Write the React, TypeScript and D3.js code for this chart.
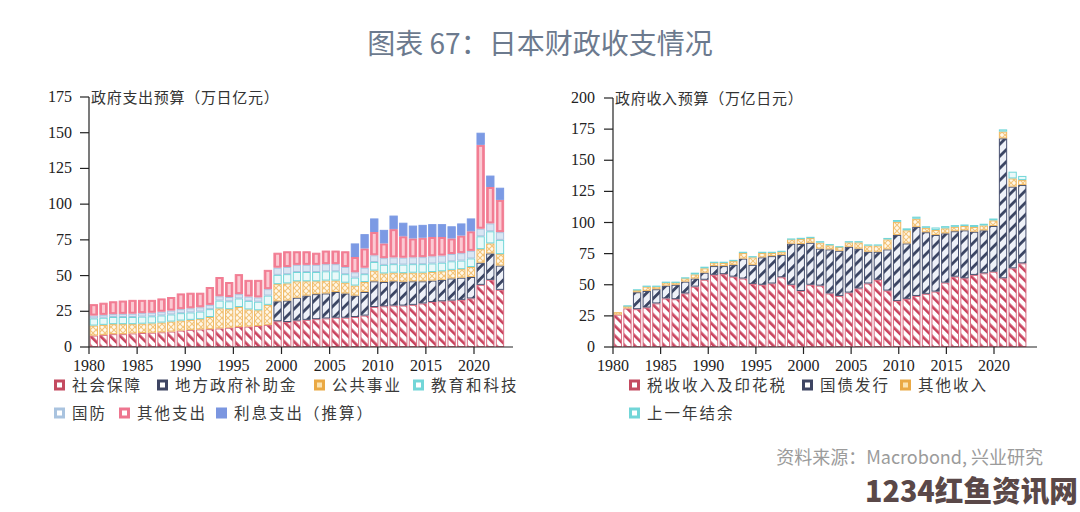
import React from "react";
import * as d3 from "d3";

// ---------- DATA ----------
const years = [
  1980, 1981, 1982, 1983, 1984, 1985, 1986, 1987, 1988, 1989,
  1990, 1991, 1992, 1993, 1994, 1995, 1996, 1997, 1998, 1999,
  2000, 2001, 2002, 2003, 2004, 2005, 2006, 2007, 2008, 2009,
  2010, 2011, 2012, 2013, 2014, 2015, 2016, 2017, 2018, 2019,
  2020, 2021, 2022,
];
const xTickYears = [1980, 1985, 1990, 1995, 2000, 2005, 2010, 2015, 2020];
const spendTicks = [0, 25, 50, 75, 100, 125, 150, 175];
const revTicks = [0, 25, 50, 75, 100, 125, 150, 175, 200];

// 政府支出预算（万亿日元）
const spendSocial = [
  8, 8.5, 9, 9, 9.5, 9.8, 10, 10.3, 10.8, 11.5,
  12, 12.3, 12.5, 13, 13.5, 14, 14.3, 14.7, 15.5, 18,
  17.5, 18.5, 19, 19.5, 20, 20.5, 20.5, 21, 22, 28,
  28.5, 29, 29, 29.5, 30.5, 31.5, 32, 32.5, 33, 34,
  43.5, 47, 40,
];
const spendLocal = [
  0, 0, 0, 0, 0, 0, 0, 0, 0, 0,
  0, 0, 0, 0, 0, 0, 0, 0, 0, 14,
  15, 16, 17, 17.5, 17.5, 18, 17, 15, 16.5, 18,
  17, 17, 16.7, 16.5, 15.5, 15, 15, 15.5, 15.5, 15,
  15.5, 18.5, 17,
];
const spendPublic = [
  7, 7, 7, 7, 6.5, 6.5, 6.5, 6.8, 7, 7,
  7, 7.2, 8.5, 14, 13, 14, 12, 11, 14, 12,
  12, 11.5, 10, 9, 9, 8, 7.5, 7, 7, 7.5,
  6, 6, 6, 6, 6, 6, 6, 6, 6, 7,
  9.5, 7, 8,
];
const spendEdu = [
  5, 5, 5, 5, 5, 5, 5, 5, 5, 5.2,
  5.2, 5.3, 5.5, 5.5, 5.5, 6, 6, 6, 6.5, 6.5,
  6.5, 6.5, 6.5, 6.5, 6.5, 6.5, 6, 5.6, 5.5, 6,
  6, 6, 6, 6, 6, 6, 6, 6, 6, 6,
  9, 8.5, 10,
];
const spendDefense = [
  2, 2, 2, 2.2, 2.3, 2.4, 2.5, 2.6, 2.7, 2.8,
  2.9, 3, 3, 3, 3, 3, 3, 3, 4.5, 5,
  5, 5, 5, 5, 5, 5, 5, 3.7, 4.5, 4.7,
  4.7, 4.7, 4.8, 4.8, 4.9, 5, 5, 5.1, 5.2, 5.3,
  5.3, 5.5, 5.4,
];
const spendOther = [
  8, 8.5, 9, 9.3, 9.7, 9.3, 9, 9.3, 9.5, 11,
  10.9, 10.2, 12.5, 13.5, 10.5, 14, 11.7, 12.3, 13.5, 10.5,
  11, 9.5, 9.5, 8.5, 9.5, 9.5, 11, 10.7, 13.5, 16.3,
  10.3, 19.8, 15, 13.2, 13.6, 13.5, 13, 10.9, 12.3, 13.7,
  58.7, 25.5, 22.6,
];
const spendInterest = [
  0, 0, 0, 0, 0, 0, 0, 0, 0, 0,
  0, 0, 0, 0, 0, 0, 0, 0, 0, 0,
  0, 0, 0, 0, 0, 0, 0, 9.5, 10, 9.5,
  9.5, 9.5, 9.5, 9, 9, 9, 9, 8.5, 8.5, 9,
  8.5, 8, 8.5,
];

// 政府收入预算（万亿日元）
const revTax = [
  26, 31, 30.4, 31.7, 35, 39, 38.4, 43, 48.5, 54,
  58, 58.5, 56.5, 55, 50.7, 50, 51, 56, 50, 45,
  50, 49.3, 43, 41, 43.7, 47, 51, 54, 45.3, 37,
  38.7, 41, 42.7, 44.5, 51.7, 56.5, 55.2, 57.9, 59.2, 60.5,
  55.2, 63.2, 67.2,
];
const revBonds = [
  0, 0, 13.6, 13.3, 11.4, 10.3, 11.6, 9.5, 6.5, 5.7,
  7, 6.5, 9.5, 16, 15.3, 22, 22, 18, 33, 37.7,
  33.7, 29.7, 35.4, 36.3, 36.8, 32, 25.5, 22.5, 33.1, 53,
  44.5, 55.5, 49.5, 45.5, 39.6, 36.5, 38.5, 34.7, 34.5, 36.7,
  112.4, 65.6, 62.9,
];
const revOther = [
  2, 2, 1.8, 3.5, 2.1, 2.5, 2, 2.7, 3.3, 3.5,
  2.8, 2.5, 3, 4.5, 6, 3.5, 2.5, 2.5, 3.5, 4,
  3.8, 4.8, 3.3, 3, 3.5, 5, 5, 5, 8, 10.5,
  10.5, 6.5, 3.5, 4, 4, 3.5, 3.5, 3.8, 3.9, 4.5,
  5.4, 6.6, 4,
];
const revSurplus = [
  0, 0.5, 0.6, 0.8, 0.8, 0.7, 0.5, 0.8, 1.4, 1.3,
  0.7, 1, 1, 1, 1, 1, 1, 0.8, 0.7, 1,
  1, 1.2, 1, 0.7, 1, 1, 0.9, 0.9, 1.2, 1.5,
  1.6, 1.7, 1.3, 2, 1.8, 1.4, 1.2, 1.6, 1.4, 1.5,
  1.8, 5.4, 3.3,
];

const spendNames = ["社会保障", "地方政府补助金", "公共事业", "教育和科技", "国防", "其他支出", "利息支出（推算）"];
const revNames = ["税收收入及印花税", "国债发行", "其他收入", "上一年结余"];

// ---------- STYLES ----------
type Sty = { fill: string; stroke: string; inner?: string; legend: string; legendInner?: string };
const STY: Record<string, Sty> = {
  red: { fill: "url(#pRed)", stroke: "#da6d82", legend: "#c44a60", legendInner: "#fff" },
  navy: { fill: "url(#pNavy)", stroke: "#48516f", legend: "#3e4563", legendInner: "#fff" },
  orange: { fill: "url(#pOrange)", stroke: "#efb862", legend: "#eaa944", legendInner: "#fbe3b0" },
  cyan: { fill: "#eaf9f9", stroke: "#72d6d8", legend: "#72d6d8", legendInner: "#fff" },
  lblue: { fill: "#d9e6f3", stroke: "#a9c3df", legend: "#a9c3df", legendInner: "#fff" },
  pink: { fill: "#f27d93", stroke: "#f27d93", inner: "#fbcad3", legend: "#ee7690", legendInner: "#fff" },
  blue: { fill: "#7c9ae4", stroke: "#7c9ae4", legend: "#7b96e0" },
};

const BASE_Y = 347;
const TICK_FONT = "'Liberation Serif', 'DejaVu Serif', serif";
const CJK_FONT = "'Noto Sans CJK SC', 'Noto Sans', sans-serif";

type ChartProps = {
  id: string;
  series: number[][];
  styleKeys: string[];
  yMax: number;
  ticks: number[];
  axisX: number;
  axisEnd: number;
  yTop: number;
  barStep: number;
  tickStep: number;
  labelGap: number;
  title: string;
};

function StackChart(p: ChartProps) {
  const keys = p.series.map((_, i) => "k" + i);
  const rows = years.map((yr, i) => {
    const r: Record<string, number> = { year: yr };
    p.series.forEach((s, k) => (r["k" + k] = s[i]));
    return r;
  });
  const stacked = d3.stack<Record<string, number>>().keys(keys)(rows);
  const y = d3.scaleLinear().domain([0, p.yMax]).range([BASE_Y, p.yTop]);
  const xb = d3
    .scaleBand<string>()
    .domain(years.map(String))
    .range([p.axisX, p.axisX + years.length * p.barStep])
    .paddingInner(0.14)
    .paddingOuter(0.07);
  const xt = d3.scaleLinear().domain([1980, 2020]).range([p.axisX, p.axisX + 40 * p.tickStep]);
  const bw = xb.bandwidth();

  return (
    <g>
      {stacked.map((layer, li) => {
        const st = STY[p.styleKeys[li]];
        return (
          <g key={li}>
            {layer.map((d, i) => {
              const y0 = y(d[0]);
              const y1 = y(d[1]);
              const h = y0 - y1;
              if (h < 0.05) return null;
              const x = xb(String(years[i])) as number;
              return (
                <g key={i}>
                  <rect
                    x={x + 0.5}
                    y={y1 + 0.5}
                    width={bw - 1}
                    height={Math.max(h - 1, 0.3)}
                    fill={st.fill}
                    stroke={st.stroke}
                    strokeWidth={1}
                  />
                  {st.inner && h > 5 ? (
                    <rect x={x + bw / 2 - 1.5} y={y1 + 2} width={3} height={h - 4} fill={st.inner} />
                  ) : null}
                </g>
              );
            })}
          </g>
        );
      })}
      {/* axes */}
      <line x1={p.axisX} x2={p.axisX} y1={BASE_Y} y2={p.yTop} stroke="#222" strokeWidth={1.2} />
      <line x1={p.axisX} x2={p.axisEnd} y1={BASE_Y} y2={BASE_Y} stroke="#222" strokeWidth={1.2} />
      {p.ticks.map((t) => (
        <g key={t}>
          <line x1={p.axisX - 9} x2={p.axisX} y1={y(t)} y2={y(t)} stroke="#222" strokeWidth={1.2} />
          <text
            x={p.axisX - p.labelGap}
            y={y(t) + 5}
            textAnchor="end"
            fontFamily={TICK_FONT}
            fontSize={16}
            fill="#222"
          >
            {t}
          </text>
        </g>
      ))}
      {xTickYears.map((t) => (
        <g key={t}>
          <line x1={xt(t)} x2={xt(t)} y1={BASE_Y} y2={BASE_Y + 7} stroke="#222" strokeWidth={1.2} />
          <text x={xt(t)} y={BASE_Y + 24} textAnchor="middle" fontFamily={TICK_FONT} fontSize={16} fill="#222">
            {t}
          </text>
        </g>
      ))}
      <text x={p.axisX + 2} y={p.yTop + 6} fontFamily={CJK_FONT} fontSize={15} letterSpacing={0.7} fill="#333">
        {p.title}
      </text>
    </g>
  );
}

function LegendItem({ x, y, label, sk }: { x: number; y: number; label: string; sk: string }) {
  const st = STY[sk];
  return (
    <g>
      <rect x={x} y={y - 5.5} width={11} height={11} fill={st.legend} />
      {st.legendInner ? <rect x={x + 3} y={y - 2.5} width={5} height={5} fill={st.legendInner} /> : null}
      <text x={x + 18} y={y + 5.5} fontFamily={CJK_FONT} fontSize={15.5} letterSpacing={2} fill="#3a3a3a">
        {label}
      </text>
    </g>
  );
}

export default function App() {
  const spendKeys = ["red", "navy", "orange", "cyan", "lblue", "pink", "blue"];
  const revKeys = ["red", "navy", "orange", "cyan"];
  const leftLegendPos = [
    [54, 385], [157, 385], [314, 385], [413, 385],
    [54, 413], [119, 413], [216, 413],
  ];
  const rightLegendPos = [[629, 385], [802, 385], [900, 385], [629, 413]];

  return (
    <svg
      width={1080}
      height={512}
      viewBox="0 0 1080 512"
      style={{ position: "absolute", left: 0, top: 0, background: "#fff" }}
    >
      <defs>
        <pattern id="pRed" width={7} height={7} patternUnits="userSpaceOnUse" patternTransform="rotate(-45)">
          <rect width={7} height={7} fill="#fff" />
          <rect width={2.7} height={7} fill="#c9435e" />
        </pattern>
        <pattern id="pNavy" width={8.5} height={8.5} patternUnits="userSpaceOnUse" patternTransform="rotate(45)">
          <rect width={8.5} height={8.5} fill="#eef1f8" />
          <rect width={2.8} height={8.5} fill="#3b4563" />
        </pattern>
        <pattern id="pOrange" width={6} height={6} patternUnits="userSpaceOnUse">
          <rect width={6} height={6} fill="#fff8ea" />
          <path d="M0,0 L6,6 M6,0 L0,6" stroke="#f3c47a" strokeWidth={1.1} />
        </pattern>
      </defs>
      <rect width={1080} height={512} fill="#fff" />

      <text x={540} y={54} textAnchor="middle" fontFamily={CJK_FONT} fontSize={28} fill="#6c7a8e">
        图表 67：日本财政收支情况
      </text>

      <StackChart
        id="spend"
        series={[spendSocial, spendLocal, spendPublic, spendEdu, spendDefense, spendOther, spendInterest]}
        styleKeys={spendKeys}
        yMax={175}
        ticks={spendTicks}
        axisX={89}
        axisEnd={513}
        yTop={97}
        barStep={9.67}
        tickStep={9.625}
        labelGap={17}
        title="政府支出预算（万日亿元）"
      />
      <StackChart
        id="rev"
        series={[revTax, revBonds, revOther, revSurplus]}
        styleKeys={revKeys}
        yMax={200}
        ticks={revTicks}
        axisX={613}
        axisEnd={1037}
        yTop={98}
        barStep={9.63}
        tickStep={9.525}
        labelGap={18}
        title="政府收入预算（万亿日元）"
      />

      {spendNames.map((n, i) => (
        <LegendItem key={n} x={leftLegendPos[i][0]} y={leftLegendPos[i][1]} label={n} sk={spendKeys[i]} />
      ))}
      {revNames.map((n, i) => (
        <LegendItem key={n} x={rightLegendPos[i][0]} y={rightLegendPos[i][1]} label={n} sk={revKeys[i]} />
      ))}

      <text x={1043} y={464} textAnchor="end" fontFamily={CJK_FONT} fontSize={18} fill="#9b9b9b">
        资料来源：Macrobond, 兴业研究
      </text>
      <text
        x={865}
        y={502}
        fontFamily={CJK_FONT}
        fontSize={29}
        fontWeight={900}
        fill="#5a4848"
        textLength={213}
        lengthAdjust="spacingAndGlyphs"
      >
        1234红鱼资讯网
      </text>
    </svg>
  );
}
